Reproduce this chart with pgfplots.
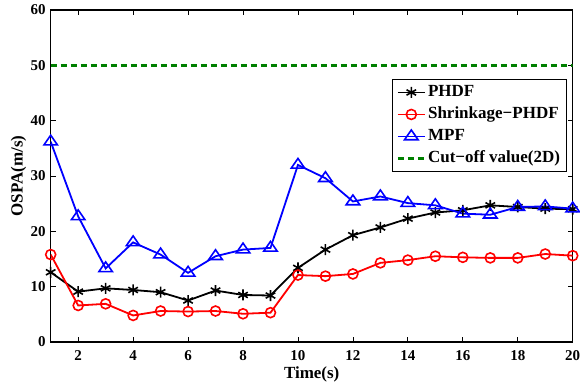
\documentclass[border=0pt]{standalone}
\usepackage{fontspec}
\setmainfont{Liberation Serif}
\usepackage{pgfplots}
\pgfplotsset{compat=1.18}
\definecolor{mgreen}{RGB}{0,128,0}
\begin{document}
\begin{tikzpicture}
\begin{axis}[
  scale only axis, width=522pt, height=332pt,
  xmin=1, xmax=20, ymin=0, ymax=60,
  xtick={2,4,...,20}, ytick={0,10,...,60},
  tick align=inside, major tick length=5pt,
  tick style={black, line width=0.8pt},
  axis line style={line width=1.1pt},
  /pgf/number format/assume math mode=true,
  ticklabel style={font=\fontsize{15}{17}\selectfont\bfseries},
  xticklabel style={anchor=base, yshift=-18pt, inner sep=0pt},
  yticklabel style={anchor=east, xshift=-1.5pt},
  xlabel={Time(s)}, ylabel={OSPA(m/s)},
  label style={font=\fontsize{17}{19}\selectfont\bfseries},
  xlabel style={at={(axis description cs:0.5,-0.1114)}, anchor=base, inner sep=0pt},
  ylabel style={at={(axis description cs:-0.0536,0.5)}, anchor=base},
  legend style={at={(0.988,0.792)}, anchor=north east, draw=black, line width=0.8pt,
    font=\fontsize{17}{19}\selectfont\bfseries, row sep=0pt, inner xsep=4pt, inner ysep=2pt,
    nodes={inner xsep=2pt, inner ysep=3.5pt, text height=11.5pt, text depth=3.5pt}},
  legend cell align=left,
  legend image code/.code={\draw[mark repeat=2,mark phase=2] plot coordinates {(0pt,0pt) (13.5pt,0pt) (27pt,0pt)};},
]
\coordinate (bl) at (rel axis cs:0,0);
\coordinate (tr) at (rel axis cs:1,1);
\addplot[black, line width=1.8pt, mark=asterisk, mark size=5.5pt, mark options={line width=1.6pt}] coordinates {
(1,12.6) (2,9.1) (3,9.7) (4,9.4) (5,9.0) (6,7.5) (7,9.3) (8,8.5) (9,8.4) (10,13.4)
(11,16.7) (12,19.3) (13,20.7) (14,22.3) (15,23.4) (16,23.8) (17,24.7) (18,24.4) (19,24.1) (20,24.0)};
\addlegendentry{PHDF}
\addplot[red, line width=1.8pt, mark=o, mark size=5pt, mark options={line width=1.6pt}] coordinates {
(1,15.8) (2,6.6) (3,6.9) (4,4.8) (5,5.6) (6,5.5) (7,5.6) (8,5.1) (9,5.3) (10,12.1)
(11,11.9) (12,12.3) (13,14.3) (14,14.8) (15,15.5) (16,15.3) (17,15.2) (18,15.2) (19,15.9) (20,15.6)};
\addlegendentry{Shrinkage−PHDF}
\addplot[blue, line width=1.8pt, mark=triangle, mark size=6.5pt, mark options={line width=1.6pt, xscale=1.2}] coordinates {
(1,36.2) (2,22.7) (3,13.3) (4,18.0) (5,15.8) (6,12.5) (7,15.5) (8,16.7) (9,17.0) (10,32.0)
(11,29.6) (12,25.4) (13,26.3) (14,25.1) (15,24.7) (16,23.2) (17,23.0) (18,24.4) (19,24.5) (20,24.1)};
\addlegendentry{MPF}
\addplot[mgreen, line width=2.5pt, dash pattern=on 6pt off 4pt] coordinates {(1,50) (20,50)};
\addlegendentry{Cut−off value(2D)}
\end{axis}
\pgfresetboundingbox
\path[use as bounding box] ([shift={(-50.7pt,-43pt)}]bl) rectangle ([shift={(7.3pt,10pt)}]tr);
\end{tikzpicture}
\end{document}
